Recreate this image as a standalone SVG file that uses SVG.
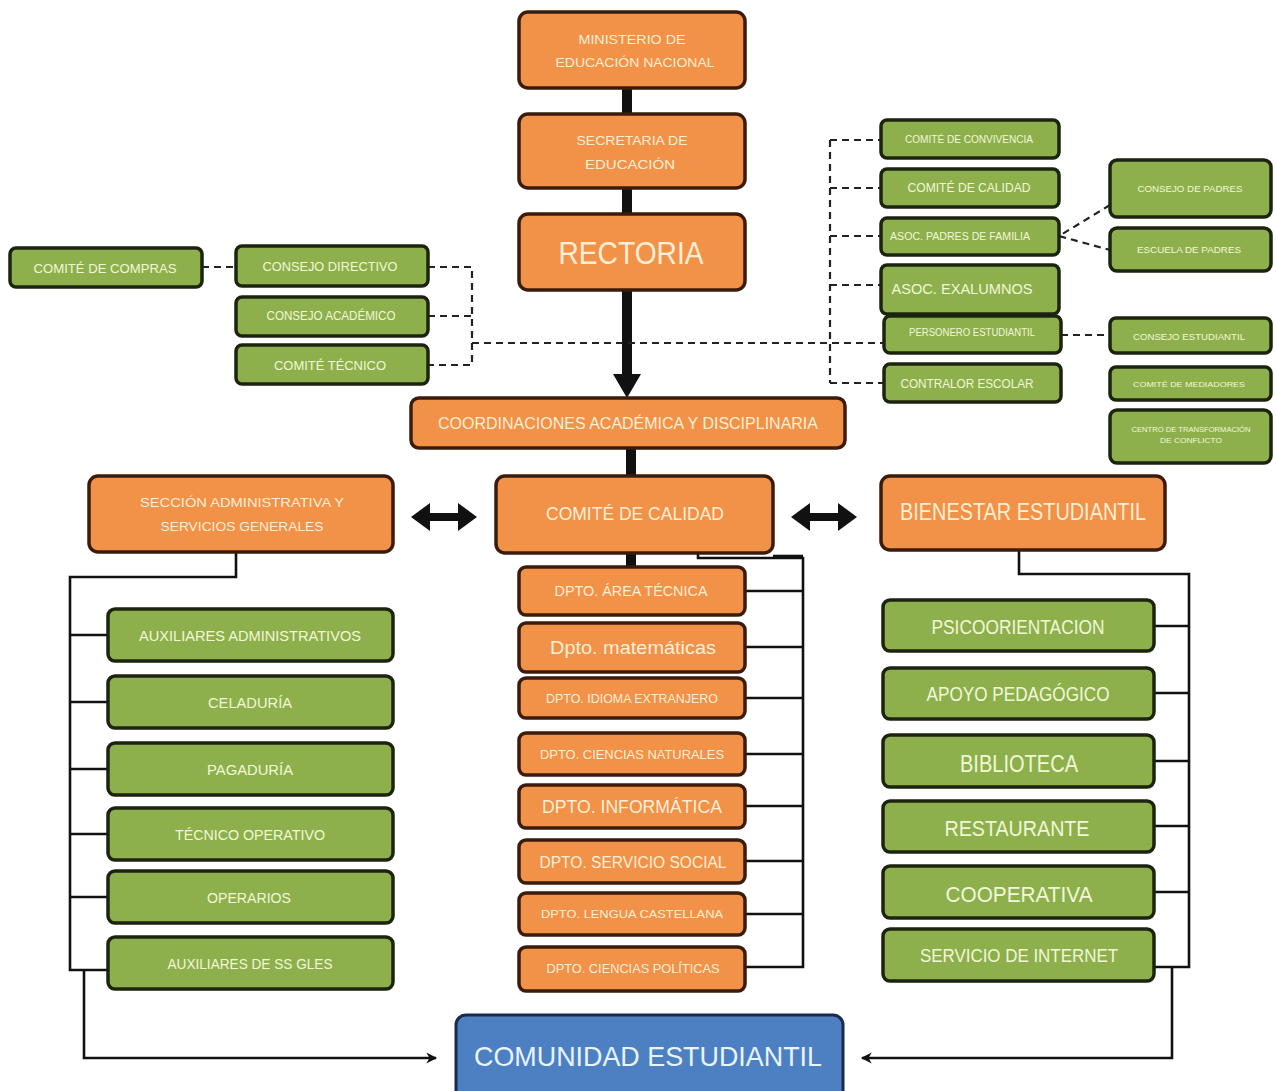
<svg xmlns="http://www.w3.org/2000/svg" width="1277" height="1091" viewBox="0 0 1277 1091">
<defs>
<style>
.o{fill:#F29148;stroke:#3B1C0C;stroke-width:3.5}
.g{fill:#8DB04C;stroke:#1C2410;stroke-width:3.5}
.b{fill:#4C80C2;stroke:#1A2A48;stroke-width:3}
text{font-family:"Liberation Sans",Arial,sans-serif;text-anchor:middle;dominant-baseline:central}
.to{fill:#FFEFD6}
.tg{fill:#F2F7D8}
.tb{fill:#E8F4FF}
.d{fill:none;stroke:#222;stroke-width:2.2;stroke-dasharray:7 5}
.s{fill:none;stroke:#111;stroke-width:2.6}
.k{fill:none;stroke:#111;stroke-width:10}
</style>
<marker id="ah" viewBox="0 0 12 12" refX="10" refY="6" markerWidth="5" markerHeight="5" orient="auto" markerUnits="strokeWidth">
<path d="M1,1 L11,6 L1,11 L4,6 Z" fill="#111"/>
</marker>
</defs>
<rect width="1277" height="1091" fill="#fff"/>

<g id="connectors">
<line class="k" x1="627" y1="88" x2="627" y2="114"/>
<line class="k" x1="627" y1="188" x2="627" y2="214"/>
<line class="k" x1="627" y1="290" x2="627" y2="376"/>
<polygon points="613,374 641,374 627,398" fill="#111"/>
<line class="k" x1="631" y1="448" x2="631" y2="476"/>
<line class="k" x1="631" y1="553" x2="631" y2="567"/>
<line x1="426" y1="517" x2="462" y2="517" stroke="#111" stroke-width="8"/>
<polygon points="411,517 430,503 430,531" fill="#111"/>
<polygon points="477,517 458,503 458,531" fill="#111"/>
<line x1="806" y1="517" x2="842" y2="517" stroke="#111" stroke-width="8"/>
<polygon points="791,517 810,503 810,531" fill="#111"/>
<polygon points="857,517 838,503 838,531" fill="#111"/>
<line class="d" x1="202" y1="267" x2="236" y2="267"/>
<polyline class="d" points="428,267 472,267 472,365 428,365"/>
<line class="d" x1="428" y1="316" x2="472" y2="316"/>
<line class="d" x1="472" y1="343" x2="884" y2="343"/>
<line class="d" x1="830" y1="140" x2="830" y2="383"/>
<line class="d" x1="830" y1="140" x2="881" y2="140"/>
<line class="d" x1="830" y1="188" x2="881" y2="188"/>
<line class="d" x1="830" y1="236" x2="881" y2="236"/>
<line class="d" x1="830" y1="285" x2="881" y2="285"/>
<line class="d" x1="830" y1="383" x2="884" y2="383"/>
<polyline class="d" points="1110,205 1059,236 1110,250"/>
<line class="d" x1="1061" y1="335" x2="1110" y2="335"/>
<polyline class="s" points="698,553 698,558 803,558 803,967 745,967"/>
<line class="s" x1="773" y1="556" x2="803" y2="556"/>
<line class="s" x1="745" y1="591" x2="803" y2="591"/>
<line class="s" x1="745" y1="647" x2="803" y2="647"/>
<line class="s" x1="745" y1="698" x2="803" y2="698"/>
<line class="s" x1="745" y1="754" x2="803" y2="754"/>
<line class="s" x1="745" y1="806" x2="803" y2="806"/>
<line class="s" x1="745" y1="861" x2="803" y2="861"/>
<line class="s" x1="745" y1="914" x2="803" y2="914"/>
<polyline class="s" points="236,552 236,577 70,577 70,970 108,970"/>
<line class="s" x1="70" y1="635" x2="108" y2="635"/>
<line class="s" x1="70" y1="702" x2="108" y2="702"/>
<line class="s" x1="70" y1="769" x2="108" y2="769"/>
<line class="s" x1="70" y1="834" x2="108" y2="834"/>
<line class="s" x1="70" y1="897" x2="108" y2="897"/>
<polyline class="s" points="84,970 84,1058 436,1058" marker-end="url(#ah)"/>
<polyline class="s" points="1019,550 1019,574 1189,574 1189,967 1154,967"/>
<line class="s" x1="1154" y1="626" x2="1189" y2="626"/>
<line class="s" x1="1154" y1="693" x2="1189" y2="693"/>
<line class="s" x1="1154" y1="761" x2="1189" y2="761"/>
<line class="s" x1="1154" y1="826" x2="1189" y2="826"/>
<line class="s" x1="1154" y1="892" x2="1189" y2="892"/>
<polyline class="s" points="1172,967 1172,1058 862,1058" marker-end="url(#ah)"/>
</g>

<g id="ministerio"><rect class="o" x="519" y="12" width="226" height="76" rx="9"/>
<text class="to" x="632" y="39" font-size="13" textLength="107" lengthAdjust="spacingAndGlyphs">MINISTERIO DE</text>
<text class="to" x="635" y="62" font-size="13" textLength="159" lengthAdjust="spacingAndGlyphs">EDUCACIÓN NACIONAL</text></g>
<g id="secretaria"><rect class="o" x="519" y="114" width="226" height="74" rx="9"/>
<text class="to" x="632" y="140" font-size="13" textLength="111" lengthAdjust="spacingAndGlyphs">SECRETARIA DE</text>
<text class="to" x="630" y="164" font-size="13" textLength="90" lengthAdjust="spacingAndGlyphs">EDUCACIÓN</text></g>
<g id="rectoria"><rect class="o" x="519" y="214" width="226" height="76" rx="9"/>
<text class="to" x="631" y="253" font-size="32" textLength="145" lengthAdjust="spacingAndGlyphs">RECTORIA</text></g>
<g id="coordinaciones"><rect class="o" x="411" y="398" width="434" height="50" rx="8"/>
<text class="to" x="628" y="423" font-size="16" textLength="380" lengthAdjust="spacingAndGlyphs">COORDINACIONES ACADÉMICA Y DISCIPLINARIA</text></g>
<g id="comite-calidad"><rect class="o" x="496" y="476" width="277" height="77" rx="9"/>
<text class="to" x="635" y="514" font-size="18" textLength="178" lengthAdjust="spacingAndGlyphs">COMITÉ DE CALIDAD</text></g>
<g id="seccion-admin"><rect class="o" x="89" y="476" width="304" height="76" rx="9"/>
<text class="to" x="242" y="502" font-size="13" textLength="204" lengthAdjust="spacingAndGlyphs">SECCIÓN ADMINISTRATIVA Y</text>
<text class="to" x="242" y="526" font-size="13" textLength="163" lengthAdjust="spacingAndGlyphs">SERVICIOS GENERALES</text></g>
<g id="bienestar"><rect class="o" x="881" y="476" width="284" height="74" rx="9"/>
<text class="to" x="1023" y="512" font-size="23" textLength="246" lengthAdjust="spacingAndGlyphs">BIENESTAR ESTUDIANTIL</text></g>

<g id="comite-compras"><rect class="g" x="10" y="248" width="192" height="39" rx="6"/>
<text class="tg" x="105" y="268" font-size="13" textLength="143" lengthAdjust="spacingAndGlyphs">COMITÉ DE COMPRAS</text></g>
<g id="consejo-directivo"><rect class="g" x="236" y="246" width="192" height="40" rx="6"/>
<text class="tg" x="330" y="266" font-size="13" textLength="135" lengthAdjust="spacingAndGlyphs">CONSEJO DIRECTIVO</text></g>
<g id="consejo-academico"><rect class="g" x="236" y="297" width="192" height="39" rx="6"/>
<text class="tg" x="331" y="316" font-size="12" textLength="129" lengthAdjust="spacingAndGlyphs">CONSEJO ACADÉMICO</text></g>
<g id="comite-tecnico"><rect class="g" x="236" y="345" width="192" height="39" rx="6"/>
<text class="tg" x="330" y="365" font-size="13" textLength="112" lengthAdjust="spacingAndGlyphs">COMITÉ TÉCNICO</text></g>

<g id="convivencia"><rect class="g" x="881" y="120" width="178" height="38" rx="6"/>
<text class="tg" x="969" y="139" font-size="10" textLength="128" lengthAdjust="spacingAndGlyphs">COMITÉ DE CONVIVENCIA</text></g>
<g id="comite-calidad-2"><rect class="g" x="881" y="169" width="178" height="38" rx="6"/>
<text class="tg" x="969" y="188" font-size="12" textLength="123" lengthAdjust="spacingAndGlyphs">COMITÉ DE CALIDAD</text></g>
<g id="asoc-padres"><rect class="g" x="881" y="218" width="178" height="37" rx="6"/>
<text class="tg" x="960" y="236" font-size="10" textLength="140" lengthAdjust="spacingAndGlyphs">ASOC. PADRES DE FAMILIA</text></g>
<g id="asoc-exalumnos"><rect class="g" x="881" y="265" width="178" height="49" rx="6"/>
<text class="tg" x="962" y="289" font-size="14" textLength="141" lengthAdjust="spacingAndGlyphs">ASOC. EXALUMNOS</text></g>
<g id="personero"><rect class="g" x="884" y="316" width="177" height="37" rx="6"/>
<text class="tg" x="972" y="332" font-size="10" textLength="126" lengthAdjust="spacingAndGlyphs">PERSONERO ESTUDIANTIL</text></g>
<g id="contralor"><rect class="g" x="884" y="364" width="177" height="38" rx="6"/>
<text class="tg" x="967" y="383" font-size="13" textLength="133" lengthAdjust="spacingAndGlyphs">CONTRALOR ESCOLAR</text></g>

<g id="consejo-padres"><rect class="g" x="1110" y="160" width="161" height="57" rx="7"/>
<text class="tg" x="1190" y="189" font-size="9" textLength="105" lengthAdjust="spacingAndGlyphs">CONSEJO DE PADRES</text></g>
<g id="escuela-padres"><rect class="g" x="1110" y="228" width="161" height="43" rx="7"/>
<text class="tg" x="1189" y="250" font-size="9" textLength="104" lengthAdjust="spacingAndGlyphs">ESCUELA DE PADRES</text></g>
<g id="consejo-estudiantil"><rect class="g" x="1110" y="318" width="161" height="35" rx="6"/>
<text class="tg" x="1189" y="337" font-size="9" textLength="112" lengthAdjust="spacingAndGlyphs">CONSEJO ESTUDIANTIL</text></g>
<g id="mediadores"><rect class="g" x="1110" y="367" width="161" height="33" rx="6"/>
<text class="tg" x="1189" y="384" font-size="8" textLength="112" lengthAdjust="spacingAndGlyphs">COMITÉ DE MEDIADORES</text></g>
<g id="centro-conflicto"><rect class="g" x="1110" y="410" width="161" height="53" rx="7"/>
<text class="tg" x="1191" y="429" font-size="7.5" textLength="119" lengthAdjust="spacingAndGlyphs">CENTRO DE TRANSFORMACIÓN</text>
<text class="tg" x="1191" y="440" font-size="7.5" textLength="62" lengthAdjust="spacingAndGlyphs">DE CONFLICTO</text></g>

<g id="dpto-tecnica"><rect class="o" x="519" y="567" width="226" height="48" rx="7"/>
<text class="to" x="631" y="591" font-size="14" textLength="153" lengthAdjust="spacingAndGlyphs">DPTO. ÁREA TÉCNICA</text></g>
<g id="dpto-mat"><rect class="o" x="519" y="623" width="226" height="49" rx="7"/>
<text class="to" x="633" y="648" font-size="18" textLength="166" lengthAdjust="spacingAndGlyphs">Dpto. matemáticas</text></g>
<g id="dpto-idioma"><rect class="o" x="519" y="678" width="226" height="40" rx="7"/>
<text class="to" x="632" y="698" font-size="13" textLength="172" lengthAdjust="spacingAndGlyphs">DPTO. IDIOMA EXTRANJERO</text></g>
<g id="dpto-naturales"><rect class="o" x="519" y="733" width="226" height="42" rx="7"/>
<text class="to" x="632" y="754" font-size="13" textLength="184" lengthAdjust="spacingAndGlyphs">DPTO. CIENCIAS NATURALES</text></g>
<g id="dpto-informatica"><rect class="o" x="519" y="785" width="226" height="43" rx="7"/>
<text class="to" x="632" y="807" font-size="18" textLength="180" lengthAdjust="spacingAndGlyphs">DPTO. INFORMÁTICA</text></g>
<g id="dpto-social"><rect class="o" x="519" y="840" width="226" height="43" rx="7"/>
<text class="to" x="633" y="862" font-size="16" textLength="187" lengthAdjust="spacingAndGlyphs">DPTO. SERVICIO SOCIAL</text></g>
<g id="dpto-lengua"><rect class="o" x="519" y="893" width="226" height="42" rx="7"/>
<text class="to" x="632" y="914" font-size="11.5" textLength="182" lengthAdjust="spacingAndGlyphs">DPTO. LENGUA CASTELLANA</text></g>
<g id="dpto-politicas"><rect class="o" x="519" y="947" width="226" height="44" rx="7"/>
<text class="to" x="633" y="969" font-size="12" textLength="173" lengthAdjust="spacingAndGlyphs">DPTO. CIENCIAS POLÍTICAS</text></g>

<g id="aux-admin"><rect class="g" x="108" y="609" width="285" height="52" rx="7"/>
<text class="tg" x="250" y="635" font-size="15" textLength="222" lengthAdjust="spacingAndGlyphs">AUXILIARES ADMINISTRATIVOS</text></g>
<g id="celaduria"><rect class="g" x="108" y="676" width="285" height="52" rx="7"/>
<text class="tg" x="250" y="702" font-size="15" textLength="84" lengthAdjust="spacingAndGlyphs">CELADURÍA</text></g>
<g id="pagaduria"><rect class="g" x="108" y="743" width="285" height="52" rx="7"/>
<text class="tg" x="250" y="769" font-size="15" textLength="86" lengthAdjust="spacingAndGlyphs">PAGADURÍA</text></g>
<g id="tecnico-operativo"><rect class="g" x="108" y="808" width="285" height="52" rx="7"/>
<text class="tg" x="250" y="834" font-size="15" textLength="150" lengthAdjust="spacingAndGlyphs">TÉCNICO OPERATIVO</text></g>
<g id="operarios"><rect class="g" x="108" y="871" width="285" height="52" rx="7"/>
<text class="tg" x="249" y="897" font-size="15" textLength="84" lengthAdjust="spacingAndGlyphs">OPERARIOS</text></g>
<g id="aux-ss"><rect class="g" x="108" y="937" width="285" height="52" rx="7"/>
<text class="tg" x="250" y="963" font-size="15" textLength="165" lengthAdjust="spacingAndGlyphs">AUXILIARES DE SS GLES</text></g>

<g id="psico"><rect class="g" x="883" y="600" width="271" height="51" rx="7"/>
<text class="tg" x="1018" y="627" font-size="20" textLength="173" lengthAdjust="spacingAndGlyphs">PSICOORIENTACION</text></g>
<g id="apoyo"><rect class="g" x="883" y="668" width="271" height="51" rx="7"/>
<text class="tg" x="1018" y="694" font-size="20" textLength="183" lengthAdjust="spacingAndGlyphs">APOYO PEDAGÓGICO</text></g>
<g id="biblioteca"><rect class="g" x="883" y="735" width="271" height="52" rx="7"/>
<text class="tg" x="1019" y="764" font-size="23" textLength="118" lengthAdjust="spacingAndGlyphs">BIBLIOTECA</text></g>
<g id="restaurante"><rect class="g" x="883" y="801" width="271" height="51" rx="7"/>
<text class="tg" x="1017" y="828" font-size="22" textLength="145" lengthAdjust="spacingAndGlyphs">RESTAURANTE</text></g>
<g id="cooperativa"><rect class="g" x="883" y="866" width="271" height="52" rx="7"/>
<text class="tg" x="1019" y="894" font-size="22" textLength="147" lengthAdjust="spacingAndGlyphs">COOPERATIVA</text></g>
<g id="internet"><rect class="g" x="883" y="929" width="271" height="52" rx="7"/>
<text class="tg" x="1019" y="955" font-size="19" textLength="198" lengthAdjust="spacingAndGlyphs">SERVICIO DE INTERNET</text></g>

<g id="comunidad"><rect class="b" x="456" y="1015" width="387" height="90" rx="10"/>
<text class="tb" x="648" y="1056" font-size="28" textLength="348" lengthAdjust="spacingAndGlyphs">COMUNIDAD ESTUDIANTIL</text></g>
</svg>
